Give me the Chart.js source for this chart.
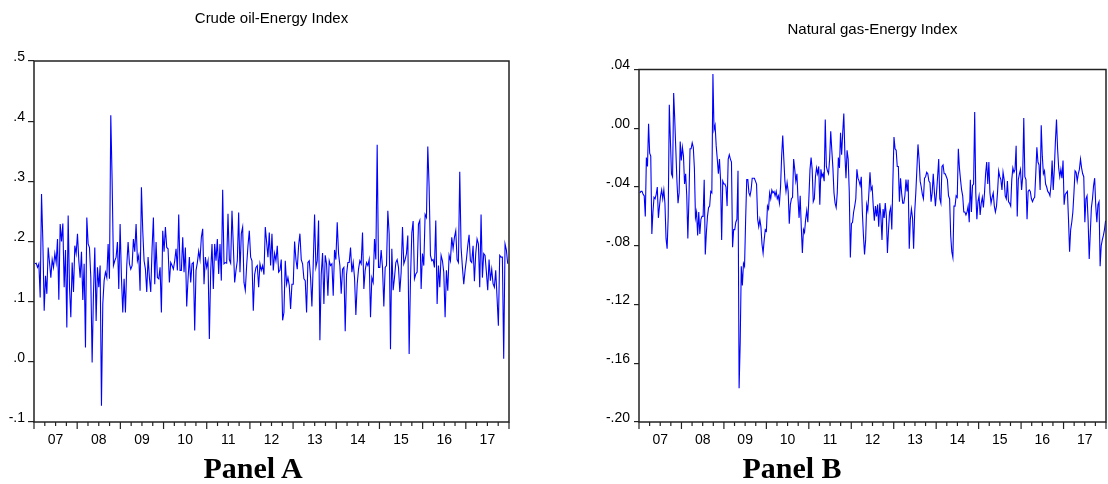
<!DOCTYPE html>
<html>
<head>
<meta charset="utf-8">
<script src="https://cdn.jsdelivr.net/npm/chart.js@4.4.0/dist/chart.umd.min.js"></script>
<style>
  html, body { margin: 0; padding: 0; background: #fff; }
  body { width: 1108px; height: 484px; position: relative; overflow: hidden; }
  canvas { position: absolute; top: 0; }
  #oilChart { left: 0; }
  #gasChart { left: 554px; }
  .panel {
    position: absolute; top: 453px;
    font: bold 30px/30px 'Liberation Serif', 'Times New Roman', serif;
    color: #000; white-space: nowrap; transform: translateX(-50%);
  }
</style>
</head>
<body>
<canvas id="oilChart" width="554" height="484"></canvas>
<canvas id="gasChart" width="554" height="484"></canvas>
<div class="panel" style="left:253px">Panel A</div>
<div class="panel" style="left:792px">Panel B</div>
<script>
const yearLabels = ['07', '08', '09', '10', '11', '12', '13', '14', '15', '16', '17'];

const oilFirst = 2007.02, oilLast = 2017.97;
const oilYTicks = [-0.1, 0, 0.1, 0.2, 0.3, 0.4, 0.5];
const oilYLabels = ['-.1', '.0', '.1', '.2', '.3', '.4', '.5'];
const oilValues = [
  .163,.164,.157,.163,.107,.279,.2,.085,.143,.113,
  .19,.165,.14,.17,.157,.18,.165,.204,.103,.229,
  .2,.23,.124,.186,.057,.243,.124,.074,.165,.116,
  .193,.18,.213,.168,.14,.183,.103,.163,.024,.24,
  .196,.19,.14,-.001,.113,.19,.068,.157,.124,.16,
  -.073,.096,.135,.149,.14,.196,.138,.41,.302,.16,
  .168,.174,.199,.121,.229,.14,.082,.138,.082,.16,
  .199,.163,.154,.16,.204,.183,.229,.168,.177,.118,
  .29,.218,.168,.154,.116,.174,.14,.116,.188,.24,
  .129,.199,.14,.138,.157,.082,.218,.183,.224,.19,
  .188,.132,.165,.16,.154,.168,.188,.152,.245,.152,
  .152,.207,.149,.19,.092,.138,.174,.132,.163,.165,
  .052,
  .152,.165,.184,.17,.207,.221,.129,.174,.157,.168,
  .038,.15,.196,.121,.196,.168,.204,.146,.196,.135,
  .286,.163,.165,.164,.246,.17,.164,.251,.193,.132,
  .152,.168,.248,.149,.213,.224,.132,.119,.16,.193,
  .218,.174,.168,.085,.145,.157,.16,.124,.163,.152,
  .16,.145,.224,.199,.174,.215,.16,.213,.152,.18,
  .168,.193,.149,.152,.17,.069,.082,.168,.129,.14,
  .127,.088,.129,.129,.2,.17,.154,.193,.213,.17,
  .163,.138,.135,.082,.165,.168,.14,.092,.163,.245,
  .157,.168,.235,.036,.145,.181,.096,.177,.163,.11,
  .168,.16,.163,.11,.186,.17,.232,.18,.16,.113,
  .154,.157,.051,.145,.165,.165,.19,.149,.165,.14,
  .078,.129,.154,.168,
  .163,.215,.121,.152,.165,.16,.17,.074,.14,.132,
  .204,.17,.361,.157,.157,.186,.157,.092,.157,.16,
  .251,.213,.021,.188,.119,.14,.165,.17,.157,.116,
  .149,.224,.163,.17,.18,.21,.013,.135,.214,.234,
  .138,.146,.149,.229,.235,.121,.18,.16,.245,.24,
  .358,.291,.177,.168,.17,.157,.235,.096,.16,.124,
  .177,.168,.149,.074,.152,.118,.177,.168,.207,.188,
  .207,.218,.17,.165,.316,.19,.157,.129,.152,.17,
  .193,.211,.168,.165,.193,.134,.18,.204,.196,.124,
  .245,.14,.18,.177,.149,.119,.17,.135,.154,.13,
  .124,.152,.107,.06,.177,.174,.174,.005,.196,.186,
  .163
];

const gasFirst = 2007.02, gasLast = 2017.99;
const gasYTicks = [-0.20, -0.16, -0.12, -0.08, -0.04, 0, 0.04];
const gasYLabels = ['-.20', '-.16', '-.12', '-.08', '-.04', '.00', '.04'];
const gasValues = [
  -.044,-.043,-.043,-.045,-.046,-.060,-.020,-.026,.003,-.017,
  -.019,-.072,-.057,-.047,-.048,-.045,-.040,-.061,-.053,-.046,
  -.042,-.048,-.042,-.051,-.075,-.082,-.060,.016,-.008,-.031,
  -.033,.024,.006,-.015,-.036,-.051,-.044,-.009,-.022,-.013,
  -.019,-.038,-.031,-.046,-.075,-.048,-.014,-.014,-.010,-.013,
  -.027,-.061,-.057,-.073,-.057,-.072,-.062,-.060,-.060,-.035,
  -.086,-.071,-.060,-.054,-.053,-.043,-.044,.037,-.001,.002,
  -.012,-.021,-.031,-.021,-.035,-.076,-.036,-.038,-.038,-.040,
  -.053,-.021,-.018,-.021,-.023,-.081,-.069,-.069,-.064,-.062,
  -.029,-.177,-.146,-.094,-.107,-.092,-.094,-.062,-.035,-.035,
  -.044,-.046,-.042,-.034,-.034,-.034,-.036,-.038,-.062,-.067,
  -.062,-.067,-.079,-.085,-.076,-.069,-.070,-.053,-.055,-.044,
  -.048,-.042,-.044,-.043,
  -.046,-.043,-.048,-.046,-.051,-.040,-.019,-.005,-.021,-.036,
  -.043,-.037,-.043,-.065,-.052,-.048,-.047,-.021,-.028,-.036,
  -.031,-.048,-.061,-.046,-.067,-.085,-.069,-.071,-.062,-.056,
  -.064,-.047,-.028,-.020,-.028,-.050,-.048,-.033,-.027,-.031,
  -.026,-.052,-.028,-.033,-.031,-.036,.006,-.026,-.029,-.031,
  -.021,-.002,-.015,-.027,-.044,-.051,-.054,-.044,-.020,-.027,
  -.003,-.018,-.003,.010,-.018,-.034,-.015,-.021,-.043,-.088,
  -.065,-.064,-.057,-.053,-.048,-.028,-.034,-.036,-.039,-.033,
  -.057,-.073,-.086,-.076,-.052,-.056,-.044,-.030,-.042,-.040,
  -.053,-.063,-.053,-.060,-.052,-.067,-.051,-.060,-.076,-.055,
  -.061,-.051,-.060,-.085,-.069,-.057,-.054,-.069,-.036,-.006,
  -.014,-.015,-.026,-.026,-.050,-.034,-.044,-.051,-.051,-.046,
  -.035,-.043,-.035,-.082,-.062,-.055,-.061,-.082,-.057,-.044,
  -.028,-.011,-.021,-.036,-.040,-.045,-.048,-.034,-.033,-.030,
  -.031,-.036,-.037,-.050,-.044,-.031,-.043,-.053,-.044,-.033,
  -.021,-.048,
  -.051,-.026,-.025,-.031,-.031,-.033,-.035,-.046,-.048,-.073,
  -.084,-.088,-.053,-.053,-.046,-.047,-.014,-.027,-.035,-.042,
  -.046,-.057,-.057,-.059,-.057,-.053,-.064,-.035,-.057,-.039,
  -.038,.011,-.044,-.062,-.050,-.046,-.059,-.051,-.047,-.054,
  -.044,-.031,-.023,-.038,-.023,-.044,-.051,-.047,-.044,-.053,
  -.057,-.053,-.043,-.029,-.033,-.035,-.042,-.030,-.035,-.046,
  -.048,-.036,-.050,-.051,-.053,-.035,-.027,-.030,-.028,-.012,
  -.060,-.035,-.031,-.028,-.042,-.033,.007,-.033,-.035,-.062,
  -.043,-.042,-.043,-.048,-.050,-.048,-.047,-.031,-.013,-.023,
  -.025,-.042,.002,-.019,-.031,-.029,-.038,-.040,-.043,-.044,
  -.046,-.038,-.022,-.042,-.028,-.009,.006,-.014,-.027,-.033,
  -.028,-.034,-.022,-.052,-.045,-.044,-.043,-.062,-.084,-.069,
  -.064,-.057,-.044,-.029,-.030,-.036,-.031,-.028,-.021,-.027,
  -.031,-.033,-.064,-.048,-.046,-.063,-.089,-.071,-.054,-.048,
  -.039,-.034,-.053,-.064,-.052,-.050,-.094,-.080,-.076,-.073,
  -.069,-.063
];

const textFont = "'Liberation Sans', Arial, sans-serif";

// frame round the plot + quarterly tick marks under it (longer at each new year)
const frameAndTicks = {
  id: 'frameAndTicks',
  afterDraw(chart) {
    const { ctx, chartArea: a, scales: { x } } = chart;
    ctx.save();
    ctx.strokeStyle = '#222';
    ctx.lineWidth = 1.2;
    for (let q = 0; q <= 44; q++) {
      const px = x.getPixelForValue(2007 + q / 4);
      const len = q % 4 === 0 ? 7 : 4;
      ctx.beginPath();
      ctx.moveTo(px, a.bottom);
      ctx.lineTo(px, a.bottom + len);
      ctx.stroke();
    }
    ctx.lineWidth = 1.5;
    ctx.strokeRect(a.left, a.top, a.right - a.left, a.bottom - a.top);
    ctx.restore();
  }
};

function makeChart(id, cfg) {
  const n = cfg.values.length;
  const step = (cfg.last - cfg.first) / (n - 1);
  return new Chart(document.getElementById(id), {
    type: 'line',
    data: {
      datasets: [{
        data: cfg.values.map((v, i) => ({ x: cfg.first + i * step, y: v })),
        borderColor: '#0000ff',
        borderWidth: 1.1,
        pointRadius: 0,
        tension: 0,
        fill: false
      }]
    },
    options: {
      responsive: false,
      animation: false,
      devicePixelRatio: 1,
      layout: { padding: { left: 0, right: cfg.padRight, top: 0, bottom: 0 } },
      plugins: {
        legend: { display: false },
        tooltip: { enabled: false },
        title: {
          display: true,
          fullSize: false,
          text: cfg.title,
          color: '#000',
          font: { family: textFont, size: 15, weight: 'normal', lineHeight: 1.2 },
          padding: { top: cfg.titleTop, bottom: cfg.titleBottom }
        }
      },
      scales: {
        x: {
          type: 'linear',
          min: 2007,
          max: 2018,
          afterBuildTicks: s => { s.ticks = yearLabels.map((_, i) => ({ value: 2007.5 + i })); },
          afterFit: s => { s.height = cfg.xHeight; },
          grid: { display: false, drawTicks: false },
          border: { display: false },
          ticks: {
            autoSkip: false,
            maxRotation: 0,
            padding: 10,
            color: '#000',
            font: { family: textFont, size: 14 },
            callback: (v, i) => yearLabels[i]
          }
        },
        y: {
          min: cfg.yTicks[0],
          max: cfg.yTicks[cfg.yTicks.length - 1],
          afterBuildTicks: s => { s.ticks = cfg.yTicks.map(v => ({ value: v })); },
          afterFit: s => { s.width = cfg.yWidth; },
          grid: { drawOnChartArea: false, tickLength: cfg.tickLen, tickColor: '#222', lineWidth: 1.2 },
          border: { display: false },
          ticks: {
            padding: cfg.labelPad,
            labelOffset: -4,
            color: '#000',
            font: { family: textFont, size: 14 },
            callback: (v, i) => cfg.yLabels[i]
          }
        }
      }
    },
    plugins: [frameAndTicks]
  });
}

makeChart('oilChart', {
  title: 'Crude oil-Energy Index',
  values: oilValues, first: oilFirst, last: oilLast,
  yTicks: oilYTicks, yLabels: oilYLabels,
  yWidth: 34, tickLen: 6, labelPad: 3,
  padRight: 45, xHeight: 62,
  titleTop: 10, titleBottom: 33
});

makeChart('gasChart', {
  title: 'Natural gas-Energy Index',
  values: gasValues, first: gasFirst, last: gasLast,
  yTicks: gasYTicks, yLabels: gasYLabels,
  yWidth: 85, tickLen: 5, labelPad: 4,
  padRight: 2, xHeight: 62,
  titleTop: 21, titleBottom: 30.5
});
</script>
</body>
</html>
